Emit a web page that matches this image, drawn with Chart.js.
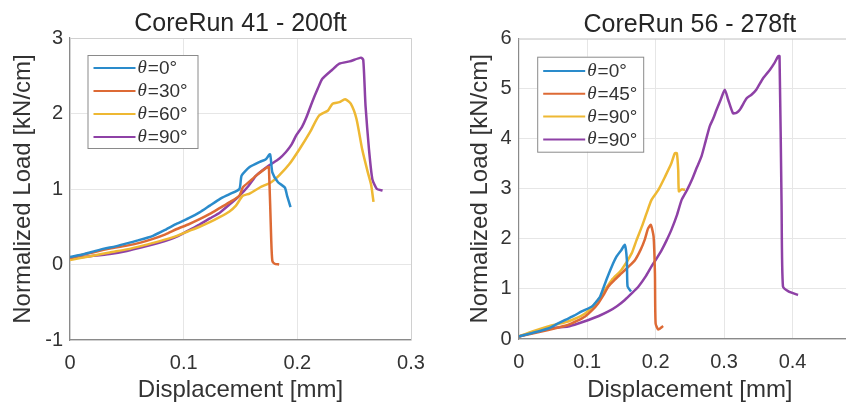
<!DOCTYPE html>
<html>
<head>
<meta charset="utf-8">
<script src="https://cdn.jsdelivr.net/npm/chart.js@4.4.1/dist/chart.umd.min.js"></script>
<style>
    html, body { margin: 0; padding: 0; background: #fff; width: 846px; height: 407px; overflow: hidden; }
    #leftChart { position: absolute; left: 0; top: 0; }
    #rightChart { position: absolute; left: 423px; top: 0; }
</style>
</head>
<body>
<canvas id="leftChart" width="450" height="407"></canvas>
<canvas id="rightChart" width="480" height="407"></canvas>
<script>
// Chart titles and legend labels
var leftTitle = 'CoreRun 41 - 200ft';
var rightTitle = 'CoreRun 56 - 278ft';
var leftLabels = ['=0°', '=30°', '=60°', '=90°'];
var rightLabels = ['=0°', '=45°', '=90°', '=90°'];
var xTitle = 'Displacement [mm]';
var yTitle = 'Normalized Load [kN/cm]';

// Axis ranges / ticks
var leftXTicks = [0, 0.3, 0.1];   // min, max, step
var leftYTicks = [-1, 3, 1];
var rightXTicks = [0, 0.5, 0.1];
var rightYTicks = [0, 6, 1];

// CoreRun 41 - series values (displacement mm, load kN/cm)
var l0x = [0, 0.010, 0.020, 0.030, 0.040, 0.050, 0.060, 0.073, 0.084, 0.094, 0.104, 0.114, 0.123, 0.132, 0.140, 0.149, 0.151, 0.158, 0.167, 0.172, 0.176, 0.178, 0.183, 0.189, 0.191, 0.194];
var l0y = [0.10, 0.13, 0.17, 0.21, 0.24, 0.28, 0.32, 0.38, 0.46, 0.54, 0.61, 0.69, 0.78, 0.87, 0.93, 1.00, 1.18, 1.29, 1.36, 1.39, 1.46, 1.22, 1.09, 1.02, 0.91, 0.76];

var l1x = [0, 0.020, 0.035, 0.050, 0.062, 0.073, 0.084, 0.094, 0.104, 0.114, 0.123, 0.132, 0.141, 0.149, 0.152, 0.158, 0.164, 0.170, 0.174, 0.175, 0.177, 0.178, 0.180, 0.184];
var l1y = [0.09, 0.16, 0.21, 0.25, 0.29, 0.34, 0.40, 0.47, 0.53, 0.60, 0.67, 0.75, 0.83, 0.91, 1.02, 1.10, 1.18, 1.25, 1.29, 1.29, 0.34, 0.05, 0.01, 0.00];

var l2x = [0, 0.018, 0.035, 0.050, 0.064, 0.079, 0.094, 0.104, 0.114, 0.123, 0.132, 0.140, 0.146, 0.152, 0.158, 0.167, 0.177, 0.184, 0.193, 0.202, 0.211, 0.219, 0.227, 0.231, 0.237, 0.242, 0.247, 0.252, 0.257, 0.262, 0.265, 0.267];
var l2y = [0.06, 0.11, 0.16, 0.20, 0.25, 0.31, 0.38, 0.44, 0.50, 0.56, 0.63, 0.70, 0.78, 0.91, 0.94, 1.02, 1.09, 1.18, 1.33, 1.53, 1.75, 1.97, 2.04, 2.13, 2.15, 2.19, 2.13, 1.93, 1.53, 1.22, 1.05, 0.83];

var l3x = [0, 0.018, 0.035, 0.050, 0.064, 0.079, 0.094, 0.104, 0.114, 0.123, 0.132, 0.140, 0.149, 0.157, 0.164, 0.175, 0.184, 0.190, 0.195, 0.199, 0.204, 0.208, 0.213, 0.218, 0.222, 0.230, 0.237, 0.246, 0.256, 0.258, 0.260, 0.263, 0.266, 0.270, 0.275];
var l3y = [0.08, 0.11, 0.14, 0.18, 0.23, 0.29, 0.37, 0.45, 0.53, 0.61, 0.69, 0.79, 0.91, 1.04, 1.18, 1.31, 1.40, 1.49, 1.59, 1.71, 1.82, 1.95, 2.15, 2.33, 2.46, 2.57, 2.66, 2.69, 2.74, 2.71, 2.10, 1.53, 1.13, 1.00, 0.98];

// CoreRun 56 - series values
var r0x = [0, 0.020, 0.043, 0.056, 0.068, 0.080, 0.092, 0.107, 0.113, 0.119, 0.128, 0.136, 0.143, 0.150, 0.155, 0.158, 0.159, 0.164];
var r0y = [0.05, 0.12, 0.21, 0.30, 0.38, 0.46, 0.55, 0.65, 0.74, 0.85, 1.18, 1.45, 1.65, 1.78, 1.88, 1.58, 1.05, 0.95];

var r1x = [0, 0.020, 0.043, 0.058, 0.072, 0.085, 0.097, 0.107, 0.116, 0.124, 0.131, 0.140, 0.150, 0.160, 0.170, 0.178, 0.184, 0.189, 0.193, 0.197, 0.199, 0.200, 0.204, 0.211];
var r1y = [0.05, 0.11, 0.18, 0.23, 0.28, 0.36, 0.45, 0.57, 0.71, 0.88, 1.05, 1.18, 1.31, 1.44, 1.58, 1.78, 1.98, 2.21, 2.28, 2.05, 1.31, 0.31, 0.19, 0.26];

var r2x = [0, 0.020, 0.043, 0.058, 0.072, 0.085, 0.097, 0.107, 0.116, 0.126, 0.136, 0.150, 0.165, 0.172, 0.180, 0.187, 0.194, 0.204, 0.214, 0.223, 0.228, 0.231, 0.233, 0.234, 0.238, 0.243];
var r2y = [0.05, 0.15, 0.25, 0.30, 0.35, 0.42, 0.51, 0.63, 0.78, 0.98, 1.18, 1.38, 1.71, 1.97, 2.25, 2.52, 2.78, 2.98, 3.25, 3.51, 3.71, 3.71, 3.38, 2.95, 2.99, 2.98];

var r3x = [0, 0.020, 0.043, 0.058, 0.072, 0.087, 0.102, 0.117, 0.131, 0.144, 0.155, 0.165, 0.175, 0.185, 0.194, 0.202, 0.209, 0.216, 0.223, 0.231, 0.238, 0.246, 0.253, 0.260, 0.267, 0.273, 0.279, 0.284, 0.289, 0.295, 0.301, 0.306, 0.313, 0.318, 0.323, 0.333, 0.340, 0.347, 0.357, 0.367, 0.373, 0.379, 0.381, 0.384, 0.386, 0.394, 0.408];
var r3y = [0.05, 0.13, 0.21, 0.23, 0.25, 0.31, 0.38, 0.46, 0.55, 0.66, 0.78, 0.91, 1.05, 1.24, 1.45, 1.62, 1.78, 1.97, 2.18, 2.47, 2.78, 2.98, 3.18, 3.42, 3.65, 3.95, 4.25, 4.40, 4.58, 4.78, 4.98, 4.78, 4.51, 4.52, 4.58, 4.81, 4.88, 4.98, 5.21, 5.38, 5.50, 5.65, 5.65, 2.65, 1.05, 0.95, 0.88];

var lineColors = ['#2a8bcb', '#dd6a35', '#eeb833', '#8e41a6'];

function toPoints(xs, ys) {
    return xs.map(function(x, i) { return {x: x, y: ys[i]}; });
}

function makeDatasets(series, labels) {
    return series.map(function(s, i) {
        return {
            label: labels[i],
            data: toPoints(s[0], s[1]),
            borderColor: lineColors[i],
            borderWidth: 2.5,
            borderJoinStyle: 'round',
            pointRadius: 0,
            tension: 0.2,
            fill: false
        };
    });
}

// Box frame (top/right) and inset legend like the MATLAB figure
var framePlugin = {
    id: 'frameLegend',
    afterDraw: function(chart, args, opts) {
        var ctx = chart.ctx;
        var a = chart.chartArea;
        ctx.save();
        ctx.strokeStyle = '#d0d0d0';
        ctx.lineWidth = 1;
        ctx.beginPath();
        ctx.moveTo(a.left, a.top + 0.5);
        ctx.lineTo(a.right + 0.5, a.top + 0.5);
        ctx.lineTo(a.right + 0.5, a.bottom);
        ctx.stroke();

        // legend box
        var bx = a.left + opts.dx, by = a.top + opts.dy;
        ctx.fillStyle = '#fff';
        ctx.fillRect(bx, by, opts.w, opts.h);
        ctx.strokeStyle = '#8a8a8a';
        ctx.strokeRect(bx + 0.5, by + 0.5, opts.w, opts.h);
        chart.data.datasets.forEach(function(ds, i) {
            var ry = by + opts.first + i * opts.step;
            ctx.strokeStyle = ds.borderColor;
            ctx.lineWidth = 2;
            ctx.beginPath();
            ctx.moveTo(bx + 6, ry);
            ctx.lineTo(bx + 48, ry);
            ctx.stroke();
            ctx.fillStyle = '#333';
            ctx.textBaseline = 'middle';
            ctx.font = 'italic 19px "Liberation Serif"';
            ctx.fillText('θ', bx + 50, ry);
            var tw = ctx.measureText('θ').width;
            ctx.font = '19px "Liberation Sans"';
            ctx.fillText(ds.label, bx + 50 + tw + 1, ry + 1);
        });
        ctx.restore();
    }
};

function makeChart(id, title, series, labels, xt, yt, geo) {
    return new Chart(document.getElementById(id), {
        type: 'line',
        data: { datasets: makeDatasets(series, labels) },
        plugins: [framePlugin],
        options: {
            responsive: false,
            animation: false,
            layout: { padding: { left: 0, right: geo.padRight, top: 0, bottom: 0 } },
            plugins: {
                legend: { display: false },
                tooltip: { enabled: false },
                title: {
                    display: true,
                    text: title,
                    fullSize: false,
                    color: '#262626',
                    font: { family: 'Liberation Sans', size: 25, weight: 'normal', lineHeight: 1.1 },
                    padding: { top: geo.titleTop, bottom: 0 }
                },
                frameLegend: geo.legend
            },
            scales: {
                x: {
                    type: 'linear',
                    min: xt[0], max: xt[1],
                    afterFit: function(s) { s.height = geo.xHeight; },
                    ticks: {
                        stepSize: xt[2],
                        color: '#333',
                        padding: 11,
                        maxRotation: 0,
                        font: { family: 'Liberation Sans', size: 20 },
                        callback: function(v) { return String(Math.round(v * 10) / 10); }
                    },
                    grid: { color: '#e6e6e6', drawTicks: false },
                    border: { color: '#8a8a8a', width: 1.2 },
                    title: {
                        display: true, text: xTitle, color: '#333',
                        font: { family: 'Liberation Sans', size: 24 },
                        padding: { top: 0, bottom: 2.6 }
                    }
                },
                y: {
                    min: yt[0], max: yt[1],
                    afterFit: function(s) { s.width = geo.yWidth; },
                    ticks: {
                        stepSize: yt[2],
                        color: '#333',
                        padding: 7,
                        font: { family: 'Liberation Sans', size: 20 },
                        callback: function(v) { return String(Math.round(v)); }
                    },
                    grid: { color: '#e6e6e6', drawTicks: false },
                    border: { color: '#8a8a8a', width: 1.2 },
                    title: {
                        display: true, text: yTitle, color: '#333',
                        font: { family: 'Liberation Sans', size: 24 },
                        padding: { top: geo.yTitlePad, bottom: 0 }
                    }
                }
            }
        }
    });
}

makeChart('leftChart', leftTitle,
    [[l0x, l0y], [l1x, l1y], [l2x, l2y], [l3x, l3y]], leftLabels,
    leftXTicks, leftYTicks,
    { padRight: 39, titleTop: 10.5, xHeight: 67, yWidth: 70, yTitlePad: 9,
      legend: { dx: 17.5, dy: 17, w: 110, h: 93, first: 13, step: 23 } });

makeChart('rightChart', rightTitle,
    [[r0x, r0y], [r1x, r1y], [r2x, r2y], [r3x, r3y]], rightLabels,
    rightXTicks, rightYTicks,
    { padRight: 42, titleTop: 11.2, xHeight: 68, yWidth: 95.7, yTitlePad: 43,
      legend: { dx: 18.5, dy: 18, w: 106, h: 95, first: 14.3, step: 22.8 } });
</script>
</body>
</html>
